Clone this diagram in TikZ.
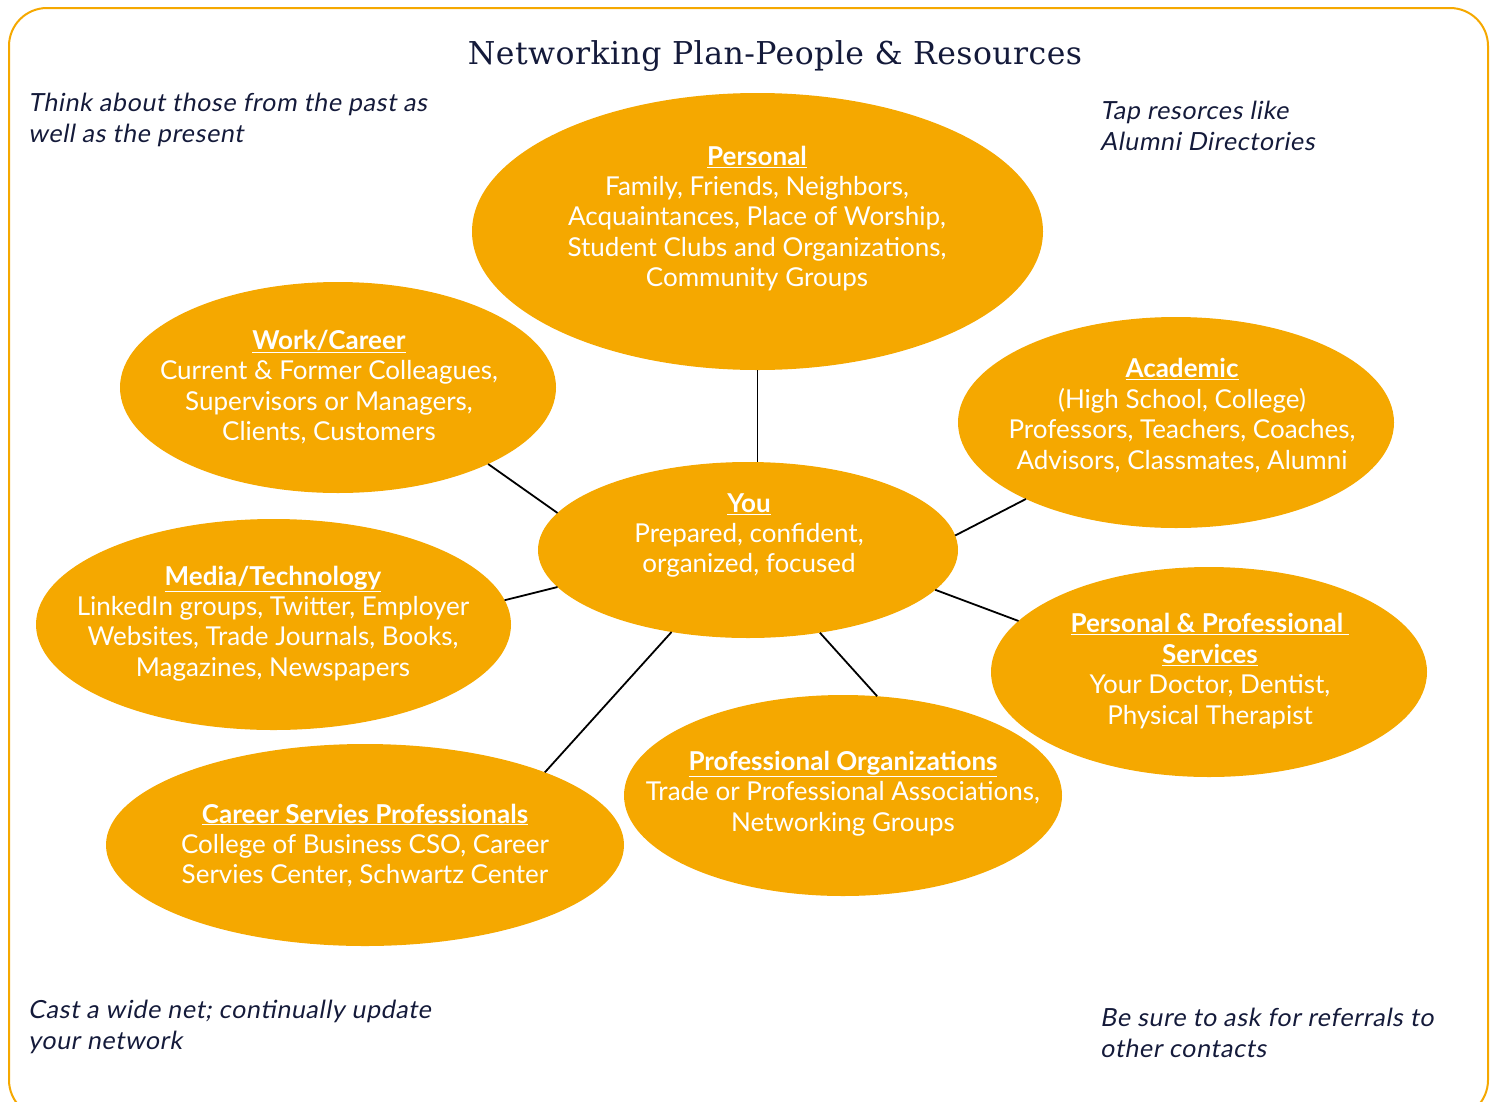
\documentclass[tikz,border=0pt]{standalone}
\usepackage{fontspec}
\setmainfont{Lato}
\newfontfamily\titlefont[LetterSpace=1.5]{DejaVu Serif}
\newfontfamily\notefont[FakeSlant=0.18,LetterSpace=2.5]{Lato}
\usetikzlibrary{shapes.geometric}
\definecolor{gold}{HTML}{F5A800}
\definecolor{navy}{HTML}{141A3A}
\begin{document}
\begin{tikzpicture}[x=1pt,y=-1pt,
  bubble/.style={ellipse, fill=gold, draw=none, inner sep=0pt, outer sep=0pt},
  bubtext/.style={text=white, align=center, inner sep=0pt,
    font=\fontsize{26}{30.4}\selectfont},
  note/.style={text=navy, align=left, inner sep=0pt, anchor=west,
    font=\notefont\fontsize{25}{31}\selectfont},
  link/.style={draw=black, line width=1.8pt}]
\newcommand{\hd}[1]{\textbf{\underline{#1}}}
\path[use as bounding box] (0,0) rectangle (1494,1101);

% outer frame, open at the bottom edge
\begin{scope}
  \clip (0,0) rectangle (1494,1101);
  \draw[gold, line width=2pt, rounded corners=38pt] (9,8) rectangle (1488,1118);
\end{scope}

% title
\node[text=navy, font=\titlefont\fontsize{31.5}{36}\selectfont, inner sep=0pt]
  (title) at (775,56) {Networking Plan-People \& Resources};

% side notes
\node[note] (n1) at (28,119.5) {Think about those from the past as\\well as the present};
\node[note] (n2) at (1100,126) {Tap resorces like\\Alumni Directories};
\node[note] (n3) at (28,1026.5) {Cast a wide net; continually update\\your network};
\node[note] (n4) at (1100,1032.5) {Be sure to ask for referrals to\\other contacts};

% bubbles
\node[bubble, minimum width=571, minimum height=277] (pers) at (757.5,231.5) {};
\node[bubble, minimum width=436, minimum height=211] (work) at (338,387.5) {};
\node[bubble, minimum width=436, minimum height=211] (acad) at (1176,422.5) {};
\node[bubble, minimum width=420, minimum height=176] (you) at (748,550) {};
\node[bubble, minimum width=475, minimum height=211] (media) at (273.5,624.5) {};
\node[bubble, minimum width=436, minimum height=210] (serv) at (1209,672) {};
\node[bubble, minimum width=518, minimum height=202] (csp) at (365,845) {};
\node[bubble, minimum width=438, minimum height=201] (porg) at (843,795.5) {};

% connectors
\draw[link] (pers.south) -- (pers.south |- you.north);
\draw[link] (work.-27.96) -- (you.169.96);
\draw[link] (media.6.04) -- (you.191.84);
\draw[link] (csp.22.8) -- (you.227.55);
\draw[link] (porg.71.1) -- (you.-49.5);
\draw[link] (serv.165.1) -- (you.-12.56);
\draw[link] (acad.207.8) -- (you.4.14);

% bubble texts
\node[bubtext] (t-pers) at (757,218.5) {\hd{Personal}\\Family, Friends, Neighbors,\\Acquaintances, Place of Worship,\\Student Clubs and Organizations,\\Community Groups};
\node[bubtext] (t-work) at (329,387) {\hd{Work/Career}\\Current \& Former Colleagues,\\Supervisors or Managers,\\Clients, Customers};
\node[bubtext] (t-acad) at (1182,415.5) {\hd{Academic}\\(High School, College)\\Professors, Teachers, Coaches,\\Advisors, Classmates, Alumni};
\node[bubtext] (t-you) at (749,535.5) {\hd{You}\\Prepared, confident,\\organized, focused};
\node[bubtext] (t-media) at (273,623.5) {\hd{Media/Technology}\\LinkedIn groups, Twitter, Employer\\Websites, Trade Journals, Books,\\Magazines, Newspapers};
\node[bubtext] (t-serv) at (1210,671) {\hd{Personal \& Professional~}\\\hd{Services}\\Your Doctor, Dentist,\\Physical Therapist};
\node[bubtext] (t-porg) at (843,793.5) {\hd{Professional Organizations}\\Trade or Professional Associations,\\Networking Groups};
\node[bubtext] (t-csp) at (365,845.5) {\hd{Career Servies Professionals}\\College of Business CSO, Career\\Servies Center, Schwartz Center};
\end{tikzpicture}
\end{document}
